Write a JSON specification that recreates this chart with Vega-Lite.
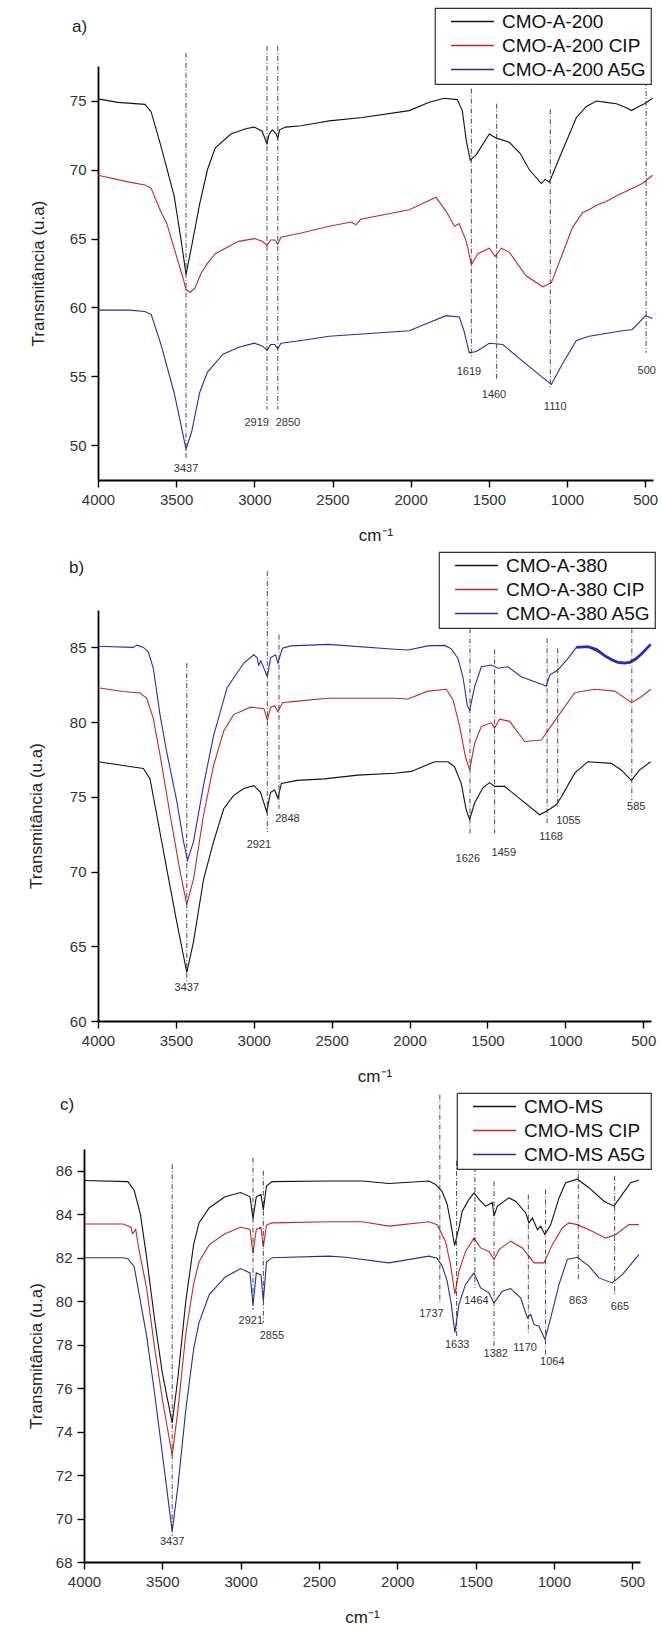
{
"$schema": "https://vega.github.io/schema/vega-lite/v6.json",
"padding": {"left": 27, "top": 7, "right": 2, "bottom": 2},
"columns": 1,
"spacing": 8,
"config": {
  "font": "Liberation Sans",
  "view": {"stroke": null},
  "axis": {"domainColor": "#000", "domainWidth": 1.8, "tickColor": "#000", "tickWidth": 1.4, "labelFontSize": 15, "labelColor": "#333", "labelFont": "Liberation Sans", "titleFont": "Liberation Sans", "titleFontSize": 17, "titleFontWeight": "normal", "titleColor": "#222", "grid": false, "labelPadding": 5, "labelOverlap": false, "labelFlush": false},
  "legend": {"orient": "none", "title": null, "symbolType": "M-3,0H3", "symbolSize": 205, "symbolStrokeWidth": 1.3, "labelFontSize": 19, "labelFont": "Liberation Sans", "labelColor": "#111", "strokeColor": "#333", "strokeWidth": 1.2, "fillColor": "#fff", "padding": 4, "rowPadding": 4, "labelOffset": 20, "symbolOffset": 24, "labelLimit": 300},
  "title": {"fontSize": 17, "fontWeight": "normal", "color": "#222", "font": "Liberation Sans", "anchor": "start", "frame": "group", "baseline": "alphabetic"}
},
"resolve": {"scale": {"color": "independent", "x": "independent", "y": "independent"}, "legend": {"color": "independent"}},
"datasets": {
"a": [
{"w":4000,"v":75.15,"s":"CMO-A-200"},{"w":3872,"v":74.9,"s":"CMO-A-200"},{"w":3700,"v":74.75,"s":"CMO-A-200"},{"w":3660,"v":74.2,"s":"CMO-A-200"},{"w":3597,"v":71.7,"s":"CMO-A-200"},{"w":3513,"v":68.1,"s":"CMO-A-200"},{"w":3470,"v":65.0,"s":"CMO-A-200"},{"w":3437,"v":62.4,"s":"CMO-A-200"},{"w":3400,"v":64.5,"s":"CMO-A-200"},{"w":3350,"v":67.5,"s":"CMO-A-200"},{"w":3300,"v":70.0,"s":"CMO-A-200"},{"w":3250,"v":71.6,"s":"CMO-A-200"},{"w":3150,"v":72.6,"s":"CMO-A-200"},{"w":3050,"v":73.0,"s":"CMO-A-200"},{"w":3000,"v":73.1,"s":"CMO-A-200"},{"w":2950,"v":72.8,"s":"CMO-A-200"},{"w":2930,"v":72.2,"s":"CMO-A-200"},{"w":2919,"v":71.9,"s":"CMO-A-200"},{"w":2905,"v":72.6,"s":"CMO-A-200"},{"w":2885,"v":72.9,"s":"CMO-A-200"},{"w":2860,"v":72.6,"s":"CMO-A-200"},{"w":2850,"v":72.3,"s":"CMO-A-200"},{"w":2838,"v":72.9,"s":"CMO-A-200"},{"w":2800,"v":73.1,"s":"CMO-A-200"},{"w":2700,"v":73.2,"s":"CMO-A-200"},{"w":2600,"v":73.4,"s":"CMO-A-200"},{"w":2521,"v":73.55,"s":"CMO-A-200"},{"w":2310,"v":73.8,"s":"CMO-A-200"},{"w":2009,"v":74.3,"s":"CMO-A-200"},{"w":1881,"v":74.9,"s":"CMO-A-200"},{"w":1785,"v":75.2,"s":"CMO-A-200"},{"w":1702,"v":75.1,"s":"CMO-A-200"},{"w":1670,"v":74.3,"s":"CMO-A-200"},{"w":1644,"v":72.1,"s":"CMO-A-200"},{"w":1619,"v":70.7,"s":"CMO-A-200"},{"w":1580,"v":71.1,"s":"CMO-A-200"},{"w":1497,"v":72.6,"s":"CMO-A-200"},{"w":1452,"v":72.3,"s":"CMO-A-200"},{"w":1369,"v":72.0,"s":"CMO-A-200"},{"w":1300,"v":71.2,"s":"CMO-A-200"},{"w":1241,"v":70.0,"s":"CMO-A-200"},{"w":1164,"v":69.0,"s":"CMO-A-200"},{"w":1140,"v":69.3,"s":"CMO-A-200"},{"w":1113,"v":69.1,"s":"CMO-A-200"},{"w":1029,"v":71.4,"s":"CMO-A-200"},{"w":940,"v":73.8,"s":"CMO-A-200"},{"w":876,"v":74.6,"s":"CMO-A-200"},{"w":812,"v":75.0,"s":"CMO-A-200"},{"w":750,"v":74.9,"s":"CMO-A-200"},{"w":684,"v":74.8,"s":"CMO-A-200"},{"w":620,"v":74.5,"s":"CMO-A-200"},{"w":588,"v":74.3,"s":"CMO-A-200"},{"w":540,"v":74.6,"s":"CMO-A-200"},{"w":505,"v":74.8,"s":"CMO-A-200"},{"w":453,"v":75.2,"s":"CMO-A-200"},
{"w":4000,"v":69.6,"s":"CMO-A-200 CIP"},{"w":3800,"v":69.1,"s":"CMO-A-200 CIP"},{"w":3700,"v":68.9,"s":"CMO-A-200 CIP"},{"w":3660,"v":68.65,"s":"CMO-A-200 CIP"},{"w":3600,"v":67.0,"s":"CMO-A-200 CIP"},{"w":3560,"v":66.1,"s":"CMO-A-200 CIP"},{"w":3500,"v":63.8,"s":"CMO-A-200 CIP"},{"w":3460,"v":62.3,"s":"CMO-A-200 CIP"},{"w":3437,"v":61.3,"s":"CMO-A-200 CIP"},{"w":3410,"v":61.1,"s":"CMO-A-200 CIP"},{"w":3380,"v":61.4,"s":"CMO-A-200 CIP"},{"w":3340,"v":62.5,"s":"CMO-A-200 CIP"},{"w":3300,"v":63.2,"s":"CMO-A-200 CIP"},{"w":3250,"v":63.9,"s":"CMO-A-200 CIP"},{"w":3200,"v":64.2,"s":"CMO-A-200 CIP"},{"w":3100,"v":64.8,"s":"CMO-A-200 CIP"},{"w":3000,"v":65.0,"s":"CMO-A-200 CIP"},{"w":2950,"v":64.8,"s":"CMO-A-200 CIP"},{"w":2919,"v":64.5,"s":"CMO-A-200 CIP"},{"w":2895,"v":64.9,"s":"CMO-A-200 CIP"},{"w":2870,"v":64.9,"s":"CMO-A-200 CIP"},{"w":2850,"v":64.6,"s":"CMO-A-200 CIP"},{"w":2830,"v":65.1,"s":"CMO-A-200 CIP"},{"w":2700,"v":65.4,"s":"CMO-A-200 CIP"},{"w":2521,"v":65.9,"s":"CMO-A-200 CIP"},{"w":2380,"v":66.2,"s":"CMO-A-200 CIP"},{"w":2350,"v":66.0,"s":"CMO-A-200 CIP"},{"w":2320,"v":66.4,"s":"CMO-A-200 CIP"},{"w":2009,"v":67.1,"s":"CMO-A-200 CIP"},{"w":1838,"v":68.0,"s":"CMO-A-200 CIP"},{"w":1774,"v":67.0,"s":"CMO-A-200 CIP"},{"w":1720,"v":65.9,"s":"CMO-A-200 CIP"},{"w":1690,"v":66.1,"s":"CMO-A-200 CIP"},{"w":1644,"v":64.8,"s":"CMO-A-200 CIP"},{"w":1612,"v":63.1,"s":"CMO-A-200 CIP"},{"w":1570,"v":63.9,"s":"CMO-A-200 CIP"},{"w":1497,"v":64.3,"s":"CMO-A-200 CIP"},{"w":1460,"v":63.7,"s":"CMO-A-200 CIP"},{"w":1420,"v":64.3,"s":"CMO-A-200 CIP"},{"w":1369,"v":64.0,"s":"CMO-A-200 CIP"},{"w":1262,"v":62.3,"s":"CMO-A-200 CIP"},{"w":1155,"v":61.5,"s":"CMO-A-200 CIP"},{"w":1100,"v":61.8,"s":"CMO-A-200 CIP"},{"w":1029,"v":63.9,"s":"CMO-A-200 CIP"},{"w":965,"v":65.8,"s":"CMO-A-200 CIP"},{"w":900,"v":66.9,"s":"CMO-A-200 CIP"},{"w":859,"v":67.1,"s":"CMO-A-200 CIP"},{"w":815,"v":67.4,"s":"CMO-A-200 CIP"},{"w":750,"v":67.7,"s":"CMO-A-200 CIP"},{"w":666,"v":68.2,"s":"CMO-A-200 CIP"},{"w":590,"v":68.6,"s":"CMO-A-200 CIP"},{"w":518,"v":69.0,"s":"CMO-A-200 CIP"},{"w":453,"v":69.6,"s":"CMO-A-200 CIP"},
{"w":4000,"v":59.8,"s":"CMO-A-200 A5G"},{"w":3800,"v":59.8,"s":"CMO-A-200 A5G"},{"w":3700,"v":59.7,"s":"CMO-A-200 A5G"},{"w":3660,"v":59.5,"s":"CMO-A-200 A5G"},{"w":3597,"v":57.3,"s":"CMO-A-200 A5G"},{"w":3513,"v":53.8,"s":"CMO-A-200 A5G"},{"w":3470,"v":51.5,"s":"CMO-A-200 A5G"},{"w":3437,"v":49.7,"s":"CMO-A-200 A5G"},{"w":3400,"v":51.0,"s":"CMO-A-200 A5G"},{"w":3350,"v":53.8,"s":"CMO-A-200 A5G"},{"w":3300,"v":55.3,"s":"CMO-A-200 A5G"},{"w":3200,"v":56.6,"s":"CMO-A-200 A5G"},{"w":3100,"v":57.1,"s":"CMO-A-200 A5G"},{"w":3000,"v":57.4,"s":"CMO-A-200 A5G"},{"w":2950,"v":57.2,"s":"CMO-A-200 A5G"},{"w":2919,"v":56.9,"s":"CMO-A-200 A5G"},{"w":2895,"v":57.3,"s":"CMO-A-200 A5G"},{"w":2870,"v":57.3,"s":"CMO-A-200 A5G"},{"w":2850,"v":57.0,"s":"CMO-A-200 A5G"},{"w":2830,"v":57.4,"s":"CMO-A-200 A5G"},{"w":2700,"v":57.6,"s":"CMO-A-200 A5G"},{"w":2521,"v":57.9,"s":"CMO-A-200 A5G"},{"w":2009,"v":58.3,"s":"CMO-A-200 A5G"},{"w":1881,"v":58.9,"s":"CMO-A-200 A5G"},{"w":1774,"v":59.4,"s":"CMO-A-200 A5G"},{"w":1689,"v":59.3,"s":"CMO-A-200 A5G"},{"w":1659,"v":58.3,"s":"CMO-A-200 A5G"},{"w":1625,"v":56.7,"s":"CMO-A-200 A5G"},{"w":1580,"v":56.8,"s":"CMO-A-200 A5G"},{"w":1497,"v":57.4,"s":"CMO-A-200 A5G"},{"w":1411,"v":57.3,"s":"CMO-A-200 A5G"},{"w":1284,"v":56.1,"s":"CMO-A-200 A5G"},{"w":1155,"v":54.9,"s":"CMO-A-200 A5G"},{"w":1100,"v":54.4,"s":"CMO-A-200 A5G"},{"w":1029,"v":55.9,"s":"CMO-A-200 A5G"},{"w":940,"v":57.6,"s":"CMO-A-200 A5G"},{"w":859,"v":57.9,"s":"CMO-A-200 A5G"},{"w":645,"v":58.3,"s":"CMO-A-200 A5G"},{"w":582,"v":58.4,"s":"CMO-A-200 A5G"},{"w":497,"v":59.4,"s":"CMO-A-200 A5G"},{"w":453,"v":59.2,"s":"CMO-A-200 A5G"}
],
"aRules": [
{"w":3437,"v":78.5,"v2":49.0},{"w":2919,"v":79.0,"v2":52.6},{"w":2850,"v":79.0,"v2":52.6},{"w":1612,"v":75.9,"v2":56.25},{"w":1450,"v":74.8,"v2":54.8},{"w":1107,"v":74.4,"v2":54.1},{"w":494,"v":76.45,"v2":56.7}
],
"aLabels": [
{"w":3437,"v":48.25,"label":"3437"},{"w":2985,"v":51.6,"label":"2919"},{"w":2785,"v":51.6,"label":"2850"},{"w":1627,"v":55.3,"label":"1619"},{"w":1467,"v":53.6,"label":"1460"},{"w":1075,"v":52.8,"label":"1110"},{"w":490,"v":55.4,"label":"500"}
],
"b": [
{"w":4000,"v":77.35,"s":"CMO-A-380"},{"w":3839,"v":77.1,"s":"CMO-A-380"},{"w":3709,"v":76.9,"s":"CMO-A-380"},{"w":3666,"v":76.2,"s":"CMO-A-380"},{"w":3623,"v":73.8,"s":"CMO-A-380"},{"w":3559,"v":70.2,"s":"CMO-A-380"},{"w":3494,"v":66.6,"s":"CMO-A-380"},{"w":3430,"v":63.25,"s":"CMO-A-380"},{"w":3387,"v":65.3,"s":"CMO-A-380"},{"w":3322,"v":69.5,"s":"CMO-A-380"},{"w":3258,"v":72.0,"s":"CMO-A-380"},{"w":3193,"v":74.2,"s":"CMO-A-380"},{"w":3129,"v":75.1,"s":"CMO-A-380"},{"w":3064,"v":75.55,"s":"CMO-A-380"},{"w":3000,"v":75.75,"s":"CMO-A-380"},{"w":2957,"v":75.3,"s":"CMO-A-380"},{"w":2917,"v":74.0,"s":"CMO-A-380"},{"w":2892,"v":75.3,"s":"CMO-A-380"},{"w":2866,"v":75.45,"s":"CMO-A-380"},{"w":2845,"v":74.9,"s":"CMO-A-380"},{"w":2823,"v":75.9,"s":"CMO-A-380"},{"w":2720,"v":76.1,"s":"CMO-A-380"},{"w":2547,"v":76.2,"s":"CMO-A-380"},{"w":2332,"v":76.45,"s":"CMO-A-380"},{"w":2096,"v":76.58,"s":"CMO-A-380"},{"w":1989,"v":76.7,"s":"CMO-A-380"},{"w":1839,"v":77.35,"s":"CMO-A-380"},{"w":1753,"v":77.35,"s":"CMO-A-380"},{"w":1711,"v":77.0,"s":"CMO-A-380"},{"w":1668,"v":75.9,"s":"CMO-A-380"},{"w":1636,"v":74.1,"s":"CMO-A-380"},{"w":1614,"v":73.5,"s":"CMO-A-380"},{"w":1582,"v":74.6,"s":"CMO-A-380"},{"w":1529,"v":75.6,"s":"CMO-A-380"},{"w":1486,"v":75.95,"s":"CMO-A-380"},{"w":1454,"v":75.7,"s":"CMO-A-380"},{"w":1390,"v":75.7,"s":"CMO-A-380"},{"w":1283,"v":74.8,"s":"CMO-A-380"},{"w":1165,"v":73.8,"s":"CMO-A-380"},{"w":1111,"v":74.1,"s":"CMO-A-380"},{"w":1058,"v":74.47,"s":"CMO-A-380"},{"w":1025,"v":75.0,"s":"CMO-A-380"},{"w":940,"v":76.58,"s":"CMO-A-380"},{"w":855,"v":77.35,"s":"CMO-A-380"},{"w":705,"v":77.24,"s":"CMO-A-380"},{"w":641,"v":76.8,"s":"CMO-A-380"},{"w":576,"v":76.1,"s":"CMO-A-380"},{"w":523,"v":76.8,"s":"CMO-A-380"},{"w":452,"v":77.35,"s":"CMO-A-380"},
{"w":4000,"v":82.3,"s":"CMO-A-380 CIP"},{"w":3839,"v":82.05,"s":"CMO-A-380 CIP"},{"w":3731,"v":81.95,"s":"CMO-A-380 CIP"},{"w":3688,"v":81.6,"s":"CMO-A-380 CIP"},{"w":3645,"v":80.25,"s":"CMO-A-380 CIP"},{"w":3602,"v":77.8,"s":"CMO-A-380 CIP"},{"w":3537,"v":73.8,"s":"CMO-A-380 CIP"},{"w":3473,"v":70.0,"s":"CMO-A-380 CIP"},{"w":3430,"v":67.8,"s":"CMO-A-380 CIP"},{"w":3387,"v":69.5,"s":"CMO-A-380 CIP"},{"w":3322,"v":73.8,"s":"CMO-A-380 CIP"},{"w":3258,"v":77.1,"s":"CMO-A-380 CIP"},{"w":3193,"v":79.4,"s":"CMO-A-380 CIP"},{"w":3129,"v":80.5,"s":"CMO-A-380 CIP"},{"w":3021,"v":81.0,"s":"CMO-A-380 CIP"},{"w":2935,"v":80.9,"s":"CMO-A-380 CIP"},{"w":2913,"v":80.15,"s":"CMO-A-380 CIP"},{"w":2892,"v":81.0,"s":"CMO-A-380 CIP"},{"w":2866,"v":81.1,"s":"CMO-A-380 CIP"},{"w":2845,"v":80.7,"s":"CMO-A-380 CIP"},{"w":2816,"v":81.3,"s":"CMO-A-380 CIP"},{"w":2720,"v":81.4,"s":"CMO-A-380 CIP"},{"w":2524,"v":81.6,"s":"CMO-A-380 CIP"},{"w":2096,"v":81.6,"s":"CMO-A-380 CIP"},{"w":2010,"v":81.55,"s":"CMO-A-380 CIP"},{"w":1882,"v":82.07,"s":"CMO-A-380 CIP"},{"w":1764,"v":82.2,"s":"CMO-A-380 CIP"},{"w":1721,"v":81.5,"s":"CMO-A-380 CIP"},{"w":1678,"v":79.7,"s":"CMO-A-380 CIP"},{"w":1642,"v":77.7,"s":"CMO-A-380 CIP"},{"w":1614,"v":76.8,"s":"CMO-A-380 CIP"},{"w":1582,"v":78.6,"s":"CMO-A-380 CIP"},{"w":1539,"v":79.7,"s":"CMO-A-380 CIP"},{"w":1475,"v":79.95,"s":"CMO-A-380 CIP"},{"w":1454,"v":79.6,"s":"CMO-A-380 CIP"},{"w":1422,"v":80.2,"s":"CMO-A-380 CIP"},{"w":1357,"v":80.05,"s":"CMO-A-380 CIP"},{"w":1261,"v":78.7,"s":"CMO-A-380 CIP"},{"w":1154,"v":78.8,"s":"CMO-A-380 CIP"},{"w":1047,"v":80.4,"s":"CMO-A-380 CIP"},{"w":940,"v":81.96,"s":"CMO-A-380 CIP"},{"w":812,"v":82.2,"s":"CMO-A-380 CIP"},{"w":683,"v":82.07,"s":"CMO-A-380 CIP"},{"w":576,"v":81.3,"s":"CMO-A-380 CIP"},{"w":512,"v":81.7,"s":"CMO-A-380 CIP"},{"w":452,"v":82.2,"s":"CMO-A-380 CIP"},
{"w":4000,"v":85.07,"s":"CMO-A-380 A5G"},{"w":3774,"v":85.0,"s":"CMO-A-380 A5G"},{"w":3750,"v":85.15,"s":"CMO-A-380 A5G"},{"w":3709,"v":85.0,"s":"CMO-A-380 A5G"},{"w":3677,"v":84.7,"s":"CMO-A-380 A5G"},{"w":3645,"v":83.6,"s":"CMO-A-380 A5G"},{"w":3602,"v":80.5,"s":"CMO-A-380 A5G"},{"w":3559,"v":78.0,"s":"CMO-A-380 A5G"},{"w":3494,"v":74.7,"s":"CMO-A-380 A5G"},{"w":3451,"v":72.0,"s":"CMO-A-380 A5G"},{"w":3425,"v":70.75,"s":"CMO-A-380 A5G"},{"w":3387,"v":72.0,"s":"CMO-A-380 A5G"},{"w":3322,"v":75.8,"s":"CMO-A-380 A5G"},{"w":3258,"v":79.1,"s":"CMO-A-380 A5G"},{"w":3171,"v":82.3,"s":"CMO-A-380 A5G"},{"w":3064,"v":83.95,"s":"CMO-A-380 A5G"},{"w":3000,"v":84.5,"s":"CMO-A-380 A5G"},{"w":2978,"v":84.3,"s":"CMO-A-380 A5G"},{"w":2968,"v":83.8,"s":"CMO-A-380 A5G"},{"w":2955,"v":84.1,"s":"CMO-A-380 A5G"},{"w":2913,"v":83.05,"s":"CMO-A-380 A5G"},{"w":2892,"v":84.3,"s":"CMO-A-380 A5G"},{"w":2860,"v":84.5,"s":"CMO-A-380 A5G"},{"w":2845,"v":83.95,"s":"CMO-A-380 A5G"},{"w":2816,"v":84.95,"s":"CMO-A-380 A5G"},{"w":2763,"v":85.1,"s":"CMO-A-380 A5G"},{"w":2524,"v":85.2,"s":"CMO-A-380 A5G"},{"w":2096,"v":84.87,"s":"CMO-A-380 A5G"},{"w":2010,"v":84.82,"s":"CMO-A-380 A5G"},{"w":1882,"v":85.1,"s":"CMO-A-380 A5G"},{"w":1775,"v":85.13,"s":"CMO-A-380 A5G"},{"w":1732,"v":84.9,"s":"CMO-A-380 A5G"},{"w":1689,"v":84.26,"s":"CMO-A-380 A5G"},{"w":1657,"v":83.0,"s":"CMO-A-380 A5G"},{"w":1629,"v":81.1,"s":"CMO-A-380 A5G"},{"w":1614,"v":80.8,"s":"CMO-A-380 A5G"},{"w":1582,"v":82.37,"s":"CMO-A-380 A5G"},{"w":1539,"v":83.7,"s":"CMO-A-380 A5G"},{"w":1475,"v":83.82,"s":"CMO-A-380 A5G"},{"w":1432,"v":83.6,"s":"CMO-A-380 A5G"},{"w":1368,"v":83.7,"s":"CMO-A-380 A5G"},{"w":1283,"v":83.04,"s":"CMO-A-380 A5G"},{"w":1197,"v":82.7,"s":"CMO-A-380 A5G"},{"w":1143,"v":82.5,"s":"CMO-A-380 A5G"},{"w":1122,"v":82.4,"s":"CMO-A-380 A5G"},{"w":1100,"v":83.15,"s":"CMO-A-380 A5G"},{"w":1047,"v":83.5,"s":"CMO-A-380 A5G"},{"w":983,"v":84.26,"s":"CMO-A-380 A5G"},{"w":929,"v":85.0,"s":"CMO-A-380 A5G"},{"w":855,"v":85.05,"s":"CMO-A-380 A5G"},{"w":748,"v":84.45,"s":"CMO-A-380 A5G"},{"w":662,"v":84.0,"s":"CMO-A-380 A5G"},{"w":587,"v":84.0,"s":"CMO-A-380 A5G"},{"w":512,"v":84.55,"s":"CMO-A-380 A5G"},{"w":452,"v":85.2,"s":"CMO-A-380 A5G"}
],
"bBlueNoisy": [
{"w":929,"v":85.0},{"w":855,"v":85.05},{"w":800,"v":84.85},{"w":748,"v":84.45},{"w":700,"v":84.15},{"w":662,"v":84.0},{"w":620,"v":83.95},{"w":587,"v":84.0},{"w":550,"v":84.2},{"w":512,"v":84.55},{"w":480,"v":84.9},{"w":452,"v":85.2}
],
"bRules": [
{"w":3430,"v":83.95,"v2":62.6},{"w":2913,"v":90.1,"v2":72.65},{"w":2838,"v":85.85,"v2":74.2},{"w":1612,"v":86.27,"v2":72.45},{"w":1454,"v":84.87,"v2":72.57},{"w":1117,"v":85.6,"v2":73.24},{"w":1049,"v":84.93,"v2":74.34},{"w":573,"v":86.27,"v2":74.78}
],
"bLabels": [
{"w":3430,"v":62.2,"label":"3437"},{"w":2967,"v":71.8,"label":"2921"},{"w":2784,"v":73.5,"label":"2848"},{"w":1626,"v":70.83,"label":"1626"},{"w":1395,"v":71.27,"label":"1459"},{"w":1091,"v":72.3,"label":"1168"},{"w":980,"v":73.4,"label":"1055"},{"w":545,"v":74.34,"label":"585"}
],
"c": [
{"w":4000,"v":85.55,"s":"CMO-MS"},{"w":3720,"v":85.5,"s":"CMO-MS"},{"w":3680,"v":85.1,"s":"CMO-MS"},{"w":3640,"v":84.0,"s":"CMO-MS"},{"w":3600,"v":82.0,"s":"CMO-MS"},{"w":3550,"v":79.2,"s":"CMO-MS"},{"w":3500,"v":76.7,"s":"CMO-MS"},{"w":3437,"v":74.4,"s":"CMO-MS"},{"w":3400,"v":76.5,"s":"CMO-MS"},{"w":3350,"v":80.0,"s":"CMO-MS"},{"w":3300,"v":82.6,"s":"CMO-MS"},{"w":3266,"v":83.6,"s":"CMO-MS"},{"w":3200,"v":84.3,"s":"CMO-MS"},{"w":3100,"v":84.8,"s":"CMO-MS"},{"w":3000,"v":85.0,"s":"CMO-MS"},{"w":2940,"v":84.8,"s":"CMO-MS"},{"w":2921,"v":83.8,"s":"CMO-MS"},{"w":2900,"v":84.8,"s":"CMO-MS"},{"w":2870,"v":84.9,"s":"CMO-MS"},{"w":2855,"v":84.2,"s":"CMO-MS"},{"w":2835,"v":85.3,"s":"CMO-MS"},{"w":2800,"v":85.5,"s":"CMO-MS"},{"w":2436,"v":85.53,"s":"CMO-MS"},{"w":2223,"v":85.53,"s":"CMO-MS"},{"w":2053,"v":85.41,"s":"CMO-MS"},{"w":1798,"v":85.53,"s":"CMO-MS"},{"w":1755,"v":85.37,"s":"CMO-MS"},{"w":1713,"v":85.04,"s":"CMO-MS"},{"w":1681,"v":84.45,"s":"CMO-MS"},{"w":1653,"v":83.37,"s":"CMO-MS"},{"w":1634,"v":82.56,"s":"CMO-MS"},{"w":1606,"v":83.37,"s":"CMO-MS"},{"w":1585,"v":84.14,"s":"CMO-MS"},{"w":1542,"v":84.68,"s":"CMO-MS"},{"w":1510,"v":84.98,"s":"CMO-MS"},{"w":1478,"v":84.68,"s":"CMO-MS"},{"w":1436,"v":84.37,"s":"CMO-MS"},{"w":1393,"v":84.53,"s":"CMO-MS"},{"w":1382,"v":83.91,"s":"CMO-MS"},{"w":1361,"v":84.37,"s":"CMO-MS"},{"w":1287,"v":84.75,"s":"CMO-MS"},{"w":1244,"v":84.6,"s":"CMO-MS"},{"w":1180,"v":84.06,"s":"CMO-MS"},{"w":1159,"v":83.6,"s":"CMO-MS"},{"w":1137,"v":83.83,"s":"CMO-MS"},{"w":1105,"v":83.29,"s":"CMO-MS"},{"w":1084,"v":83.45,"s":"CMO-MS"},{"w":1057,"v":83.06,"s":"CMO-MS"},{"w":1020,"v":83.52,"s":"CMO-MS"},{"w":967,"v":84.75,"s":"CMO-MS"},{"w":925,"v":85.45,"s":"CMO-MS"},{"w":850,"v":85.61,"s":"CMO-MS"},{"w":776,"v":85.22,"s":"CMO-MS"},{"w":680,"v":84.6,"s":"CMO-MS"},{"w":616,"v":84.37,"s":"CMO-MS"},{"w":563,"v":84.91,"s":"CMO-MS"},{"w":510,"v":85.45,"s":"CMO-MS"},{"w":457,"v":85.56,"s":"CMO-MS"},
{"w":4000,"v":83.55,"s":"CMO-MS CIP"},{"w":3750,"v":83.55,"s":"CMO-MS CIP"},{"w":3700,"v":83.4,"s":"CMO-MS CIP"},{"w":3690,"v":83.1,"s":"CMO-MS CIP"},{"w":3670,"v":83.3,"s":"CMO-MS CIP"},{"w":3650,"v":82.4,"s":"CMO-MS CIP"},{"w":3600,"v":80.6,"s":"CMO-MS CIP"},{"w":3550,"v":77.9,"s":"CMO-MS CIP"},{"w":3500,"v":75.5,"s":"CMO-MS CIP"},{"w":3437,"v":72.9,"s":"CMO-MS CIP"},{"w":3400,"v":75.0,"s":"CMO-MS CIP"},{"w":3350,"v":78.5,"s":"CMO-MS CIP"},{"w":3300,"v":80.8,"s":"CMO-MS CIP"},{"w":3266,"v":81.8,"s":"CMO-MS CIP"},{"w":3200,"v":82.6,"s":"CMO-MS CIP"},{"w":3100,"v":83.1,"s":"CMO-MS CIP"},{"w":3000,"v":83.4,"s":"CMO-MS CIP"},{"w":2940,"v":83.3,"s":"CMO-MS CIP"},{"w":2921,"v":82.2,"s":"CMO-MS CIP"},{"w":2900,"v":83.3,"s":"CMO-MS CIP"},{"w":2870,"v":83.4,"s":"CMO-MS CIP"},{"w":2855,"v":82.5,"s":"CMO-MS CIP"},{"w":2835,"v":83.5,"s":"CMO-MS CIP"},{"w":2800,"v":83.6,"s":"CMO-MS CIP"},{"w":2436,"v":83.65,"s":"CMO-MS CIP"},{"w":2223,"v":83.65,"s":"CMO-MS CIP"},{"w":2053,"v":83.45,"s":"CMO-MS CIP"},{"w":1798,"v":83.65,"s":"CMO-MS CIP"},{"w":1745,"v":83.52,"s":"CMO-MS CIP"},{"w":1724,"v":83.22,"s":"CMO-MS CIP"},{"w":1692,"v":82.76,"s":"CMO-MS CIP"},{"w":1660,"v":81.68,"s":"CMO-MS CIP"},{"w":1632,"v":80.33,"s":"CMO-MS CIP"},{"w":1606,"v":81.37,"s":"CMO-MS CIP"},{"w":1564,"v":82.29,"s":"CMO-MS CIP"},{"w":1510,"v":82.9,"s":"CMO-MS CIP"},{"w":1468,"v":82.45,"s":"CMO-MS CIP"},{"w":1415,"v":82.29,"s":"CMO-MS CIP"},{"w":1382,"v":81.91,"s":"CMO-MS CIP"},{"w":1350,"v":82.37,"s":"CMO-MS CIP"},{"w":1276,"v":82.76,"s":"CMO-MS CIP"},{"w":1201,"v":82.45,"s":"CMO-MS CIP"},{"w":1159,"v":82.06,"s":"CMO-MS CIP"},{"w":1127,"v":81.76,"s":"CMO-MS CIP"},{"w":1063,"v":81.76,"s":"CMO-MS CIP"},{"w":1010,"v":82.6,"s":"CMO-MS CIP"},{"w":946,"v":83.37,"s":"CMO-MS CIP"},{"w":904,"v":83.6,"s":"CMO-MS CIP"},{"w":850,"v":83.52,"s":"CMO-MS CIP"},{"w":755,"v":83.22,"s":"CMO-MS CIP"},{"w":670,"v":82.9,"s":"CMO-MS CIP"},{"w":606,"v":83.06,"s":"CMO-MS CIP"},{"w":521,"v":83.52,"s":"CMO-MS CIP"},{"w":457,"v":83.52,"s":"CMO-MS CIP"},
{"w":4000,"v":82.0,"s":"CMO-MS A5G"},{"w":3750,"v":82.0,"s":"CMO-MS A5G"},{"w":3720,"v":81.95,"s":"CMO-MS A5G"},{"w":3680,"v":81.6,"s":"CMO-MS A5G"},{"w":3640,"v":80.0,"s":"CMO-MS A5G"},{"w":3600,"v":78.4,"s":"CMO-MS A5G"},{"w":3550,"v":75.8,"s":"CMO-MS A5G"},{"w":3500,"v":73.0,"s":"CMO-MS A5G"},{"w":3437,"v":69.4,"s":"CMO-MS A5G"},{"w":3400,"v":71.5,"s":"CMO-MS A5G"},{"w":3350,"v":75.0,"s":"CMO-MS A5G"},{"w":3300,"v":77.8,"s":"CMO-MS A5G"},{"w":3266,"v":79.0,"s":"CMO-MS A5G"},{"w":3200,"v":80.3,"s":"CMO-MS A5G"},{"w":3100,"v":81.1,"s":"CMO-MS A5G"},{"w":3000,"v":81.5,"s":"CMO-MS A5G"},{"w":2940,"v":81.3,"s":"CMO-MS A5G"},{"w":2921,"v":79.8,"s":"CMO-MS A5G"},{"w":2900,"v":81.3,"s":"CMO-MS A5G"},{"w":2870,"v":81.2,"s":"CMO-MS A5G"},{"w":2855,"v":80.0,"s":"CMO-MS A5G"},{"w":2835,"v":81.8,"s":"CMO-MS A5G"},{"w":2800,"v":82.0,"s":"CMO-MS A5G"},{"w":2436,"v":82.07,"s":"CMO-MS A5G"},{"w":2330,"v":82.02,"s":"CMO-MS A5G"},{"w":2053,"v":81.76,"s":"CMO-MS A5G"},{"w":1798,"v":82.07,"s":"CMO-MS A5G"},{"w":1745,"v":81.97,"s":"CMO-MS A5G"},{"w":1713,"v":81.61,"s":"CMO-MS A5G"},{"w":1681,"v":80.92,"s":"CMO-MS A5G"},{"w":1655,"v":79.85,"s":"CMO-MS A5G"},{"w":1632,"v":78.55,"s":"CMO-MS A5G"},{"w":1606,"v":79.85,"s":"CMO-MS A5G"},{"w":1564,"v":80.77,"s":"CMO-MS A5G"},{"w":1510,"v":81.3,"s":"CMO-MS A5G"},{"w":1468,"v":80.61,"s":"CMO-MS A5G"},{"w":1415,"v":80.38,"s":"CMO-MS A5G"},{"w":1382,"v":79.92,"s":"CMO-MS A5G"},{"w":1329,"v":80.46,"s":"CMO-MS A5G"},{"w":1276,"v":80.58,"s":"CMO-MS A5G"},{"w":1212,"v":80.15,"s":"CMO-MS A5G"},{"w":1169,"v":79.23,"s":"CMO-MS A5G"},{"w":1148,"v":79.39,"s":"CMO-MS A5G"},{"w":1127,"v":78.93,"s":"CMO-MS A5G"},{"w":1095,"v":78.85,"s":"CMO-MS A5G"},{"w":1057,"v":78.24,"s":"CMO-MS A5G"},{"w":1020,"v":79.23,"s":"CMO-MS A5G"},{"w":967,"v":80.77,"s":"CMO-MS A5G"},{"w":914,"v":81.92,"s":"CMO-MS A5G"},{"w":850,"v":82.02,"s":"CMO-MS A5G"},{"w":776,"v":81.61,"s":"CMO-MS A5G"},{"w":712,"v":81.07,"s":"CMO-MS A5G"},{"w":627,"v":80.84,"s":"CMO-MS A5G"},{"w":563,"v":81.22,"s":"CMO-MS A5G"},{"w":457,"v":82.14,"s":"CMO-MS A5G"}
],
"cRules": [
{"w":3437,"v":86.3,"v2":69.2},{"w":2921,"v":86.6,"v2":79.6},{"w":2855,"v":86.0,"v2":79.0},{"w":1728,"v":89.5,"v2":79.84},{"w":1621,"v":86.45,"v2":78.38},{"w":1504,"v":86.17,"v2":80.61},{"w":1382,"v":85.52,"v2":77.85},{"w":1163,"v":84.91,"v2":78.55},{"w":1053,"v":85.14,"v2":77.54},{"w":844,"v":86.3,"v2":80.92},{"w":612,"v":85.76,"v2":80.33}
],
"cLabels": [
{"w":3437,"v":68.94,"label":"3437"},{"w":2935,"v":79.1,"label":"2921"},{"w":2800,"v":78.4,"label":"2855"},{"w":1782,"v":79.41,"label":"1737"},{"w":1617,"v":77.98,"label":"1633"},{"w":1494,"v":80.0,"label":"1464"},{"w":1371,"v":77.57,"label":"1382"},{"w":1184,"v":77.85,"label":"1170"},{"w":1010,"v":77.2,"label":"1064"},{"w":844,"v":80.0,"label":"863"},{"w":578,"v":79.72,"label":"665"}
]
},
"concat": [
{
  "width": 555, "height": 414,
  "title": {"text": "a)", "dx": -26, "offset": -29},
  "layer": [
    {"data": {"name": "a"}, "mark": {"type": "line", "strokeWidth": 1.1},
     "encoding": {
       "x": {"field": "w", "type": "quantitative", "scale": {"domain": [450, 4000], "reverse": true, "nice": false, "zero": false},
             "axis": {"values": [4000,3750,3500,3250,3000,2750,2500,2250,2000,1750,1500,1250,1000,750,500], "format": "d", "labelOverlap": false, "labelExpr": "datum.value % 500 === 0 ? datum.label : ''", "title": "cm⁻¹", "titlePadding": 20, "tickSize": {"condition": {"test": "datum.value % 500 === 0", "value": 7}, "value": 5}}},
       "y": {"field": "v", "type": "quantitative", "scale": {"domain": [47.46, 77.54], "nice": false, "zero": false},
             "axis": {"values": [50,52.5,55,57.5,60,62.5,65,67.5,70,72.5,75,77.5], "format": "d", "labelOverlap": false, "labelExpr": "datum.value % 5 === 0 ? datum.label : ''", "title": "Transmitância (u.a)", "titlePadding": 22, "tickSize": {"condition": {"test": "datum.value % 5 === 0", "value": 7}, "value": 5}}},
       "color": {"field": "s", "type": "nominal", "scale": {"domain": ["CMO-A-200", "CMO-A-200 CIP", "CMO-A-200 A5G"], "range": ["#111111", "#c4262b", "#2b2b9b"]},
                 "legend": {"legendX": 337, "legendY": -58}}
     }},
    {"data": {"name": "aRules"}, "mark": {"type": "rule", "color": "#333", "strokeWidth": 0.9, "strokeDash": [5, 2, 1, 2]},
     "encoding": {"x": {"field": "w", "type": "quantitative"}, "y": {"field": "v", "type": "quantitative"}, "y2": {"field": "v2"}}},
    {"data": {"name": "aLabels"}, "mark": {"type": "text", "fontSize": 11, "color": "#333", "font": "Liberation Sans"},
     "encoding": {"x": {"field": "w", "type": "quantitative"}, "y": {"field": "v", "type": "quantitative"}, "text": {"field": "label"}}}
  ]
},
{
  "width": 553, "height": 411,
  "title": {"text": "b)", "dx": -29, "offset": -26},
  "layer": [
    {"data": {"name": "b"}, "mark": {"type": "line", "strokeWidth": 1.1},
     "encoding": {
       "x": {"field": "w", "type": "quantitative", "scale": {"domain": [450, 4000], "reverse": true, "nice": false, "zero": false},
             "axis": {"values": [4000,3750,3500,3250,3000,2750,2500,2250,2000,1750,1500,1250,1000,750,500], "format": "d", "labelOverlap": false, "labelExpr": "datum.value % 500 === 0 ? datum.label : ''", "title": "cm⁻¹", "titlePadding": 20, "tickSize": {"condition": {"test": "datum.value % 500 === 0", "value": 7}, "value": 5}}},
       "y": {"field": "v", "type": "quantitative", "scale": {"domain": [60, 87.5], "nice": false, "zero": false},
             "axis": {"values": [60,62.5,65,67.5,70,72.5,75,77.5,80,82.5,85,87.5], "format": "d", "labelOverlap": false, "labelExpr": "datum.value % 5 === 0 ? datum.label : ''", "title": "Transmitância (u.a)", "titlePadding": 24, "tickSize": {"condition": {"test": "datum.value % 5 === 0", "value": 7}, "value": 5}}},
       "color": {"field": "s", "type": "nominal", "scale": {"domain": ["CMO-A-380", "CMO-A-380 CIP", "CMO-A-380 A5G"], "range": ["#111111", "#c4262b", "#2b2bb0"]},
                 "legend": {"legendX": 341, "legendY": -58}}
     }},
    {"data": {"name": "bBlueNoisy"}, "mark": {"type": "line", "strokeWidth": 2.8, "color": "#2b2bb0"},
     "encoding": {"x": {"field": "w", "type": "quantitative"}, "y": {"field": "v", "type": "quantitative"}}},
    {"data": {"name": "bRules"}, "mark": {"type": "rule", "color": "#333", "strokeWidth": 0.9, "strokeDash": [5, 2, 1, 2]},
     "encoding": {"x": {"field": "w", "type": "quantitative"}, "y": {"field": "v", "type": "quantitative"}, "y2": {"field": "v2"}}},
    {"data": {"name": "bLabels"}, "mark": {"type": "text", "fontSize": 11, "color": "#333", "font": "Liberation Sans"},
     "encoding": {"x": {"field": "w", "type": "quantitative"}, "y": {"field": "v", "type": "quantitative"}, "text": {"field": "label"}}}
  ]
},
{
  "width": 542, "height": 413,
  "title": {"text": "c)", "dx": -38, "offset": -22},
  "layer": [
    {"data": {"name": "c"}, "mark": {"type": "line", "strokeWidth": 1.1},
     "encoding": {
       "x": {"field": "w", "type": "quantitative", "scale": {"domain": [450, 4000], "range": [-14, 542], "reverse": true, "nice": false, "zero": false},
             "axis": {"values": [4000,3750,3500,3250,3000,2750,2500,2250,2000,1750,1500,1250,1000,750,500], "format": "d", "labelOverlap": false, "labelExpr": "datum.value % 500 === 0 ? datum.label : ''", "title": "cm⁻¹", "titlePadding": 20, "tickSize": {"condition": {"test": "datum.value % 500 === 0", "value": 7}, "value": 5}}},
       "y": {"field": "v", "type": "quantitative", "scale": {"domain": [68, 87], "nice": false, "zero": false},
             "axis": {"offset": 14, "values": [68,69,70,71,72,73,74,75,76,77,78,79,80,81,82,83,84,85,86,87], "format": "d", "labelOverlap": false, "labelExpr": "datum.value % 2 === 0 ? datum.label : ''", "title": "Transmitância (u.a)", "titlePadding": 10, "tickSize": {"condition": {"test": "datum.value % 2 === 0", "value": 7}, "value": 5}}},
       "color": {"field": "s", "type": "nominal", "scale": {"domain": ["CMO-MS", "CMO-MS CIP", "CMO-MS A5G"], "range": ["#111111", "#c4262b", "#2b2b9b"]},
                 "legend": {"legendX": 359, "legendY": -56}}
     }},
    {"data": {"name": "cRules"}, "mark": {"type": "rule", "color": "#333", "strokeWidth": 0.9, "strokeDash": [5, 2, 1, 2]},
     "encoding": {"x": {"field": "w", "type": "quantitative"}, "y": {"field": "v", "type": "quantitative"}, "y2": {"field": "v2"}}},
    {"data": {"name": "cLabels"}, "mark": {"type": "text", "fontSize": 11, "color": "#333", "font": "Liberation Sans"},
     "encoding": {"x": {"field": "w", "type": "quantitative"}, "y": {"field": "v", "type": "quantitative"}, "text": {"field": "label"}}}
  ]
}
]
}
